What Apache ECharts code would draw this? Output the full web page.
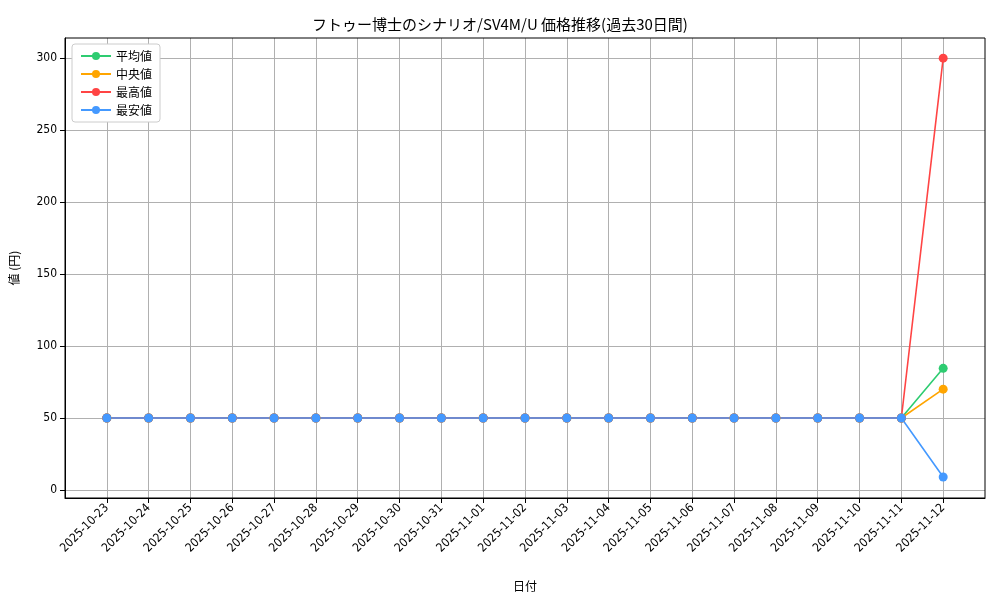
<!DOCTYPE html>
<html><head><meta charset="utf-8">
<script src="https://cdn.jsdelivr.net/npm/echarts@6/dist/echarts.min.js"></script>
<style>body{margin:0}#c{width:1000px;height:600px}</style></head>
<body><div id="c"></div>
<script>
const dates = ['2025-10-23','2025-10-24','2025-10-25','2025-10-26','2025-10-27','2025-10-28','2025-10-29',
  '2025-10-30','2025-10-31','2025-11-01','2025-11-02','2025-11-03','2025-11-04','2025-11-05','2025-11-06',
  '2025-11-07','2025-11-08','2025-11-09','2025-11-10','2025-11-11','2025-11-12']
const flat = n => Array(n).fill(50)
const avgVals = flat(20).concat([84.5])
const medVals = flat(20).concat([70])
const maxVals = flat(20).concat([300])
const minVals = flat(20).concat([9])
const yTicks = [0, 50, 100, 150, 200, 250, 300]

const font = '"Noto Sans CJK JP", sans-serif'
const idx = dates.map((d, i) => i)
const mk = (name, color, vals) => ({
  name, type: 'line', data: vals.map((v, i) => [i, v]),
  symbol: 'circle', symbolSize: 9, itemStyle: {color}, lineStyle: {color, width: 1.6}
})
const chart = echarts.init(document.getElementById('c'))
chart.setOption({
  animation: false,
  textStyle: {fontFamily: font},
  title: {text: 'フトゥー博士のシナリオ/SV4M/U 価格推移(過去30日間)', left: 'center', top: 12,
    textStyle: {fontFamily: font, fontSize: 15, fontWeight: 'normal', color: '#000'}},
  legend: {orient: 'vertical', left: 72, top: 44, itemWidth: 30, itemHeight: 10, itemGap: 6,
    borderColor: '#ccc', borderWidth: 1, borderRadius: 3, padding: [6, 8], backgroundColor: '#fff',
    textStyle: {fontFamily: font, fontSize: 12, color: '#000'},
    data: ['平均値', '中央値', '最高値', '最安値']},
  grid: {left: 65, right: 15, top: 38, bottom: 102, containLabel: false},
  xAxis: {type: 'value', min: -1, max: 21, name: '日付', nameLocation: 'middle', nameGap: 82,
    nameTextStyle: {color: '#000', fontSize: 12},
    axisLine: {onZero: false, lineStyle: {color: '#000'}},
    axisTick: {show: true, customValues: idx, length: 5, lineStyle: {color: '#000'}},
    axisLabel: {customValues: idx, rotate: 45, color: '#000', fontSize: 12, margin: 8,
      fontFamily: '"DejaVu Sans Condensed", sans-serif', formatter: v => dates[v] || ''},
    splitLine: {show: true, lineStyle: {color: '#b0b0b0'}}},
  yAxis: {type: 'value', min: -5.6, max: 314, name: '値 (円)', nameLocation: 'middle', nameGap: 45,
    nameTextStyle: {color: '#000', fontSize: 12},
    axisLine: {show: true, onZero: false, lineStyle: {color: '#000'}},
    axisTick: {show: true, customValues: yTicks, length: 5, lineStyle: {color: '#000'}},
    axisLabel: {customValues: yTicks, color: '#000', fontSize: 12,
      fontFamily: '"DejaVu Sans Condensed", sans-serif'},
    splitLine: {show: true, lineStyle: {color: '#b0b0b0'}}},
  graphic: [{type: 'rect', shape: {x: 65, y: 38, width: 920, height: 460}, silent: true,
    style: {fill: 'none', stroke: '#000', lineWidth: 1}, z: 100}],
  series: [
    mk('平均値', '#2ecc71', avgVals),
    mk('中央値', '#ffa500', medVals),
    mk('最高値', '#ff4444', maxVals),
    mk('最安値', '#4499ff', minVals)
  ]
})
</script></body></html>
